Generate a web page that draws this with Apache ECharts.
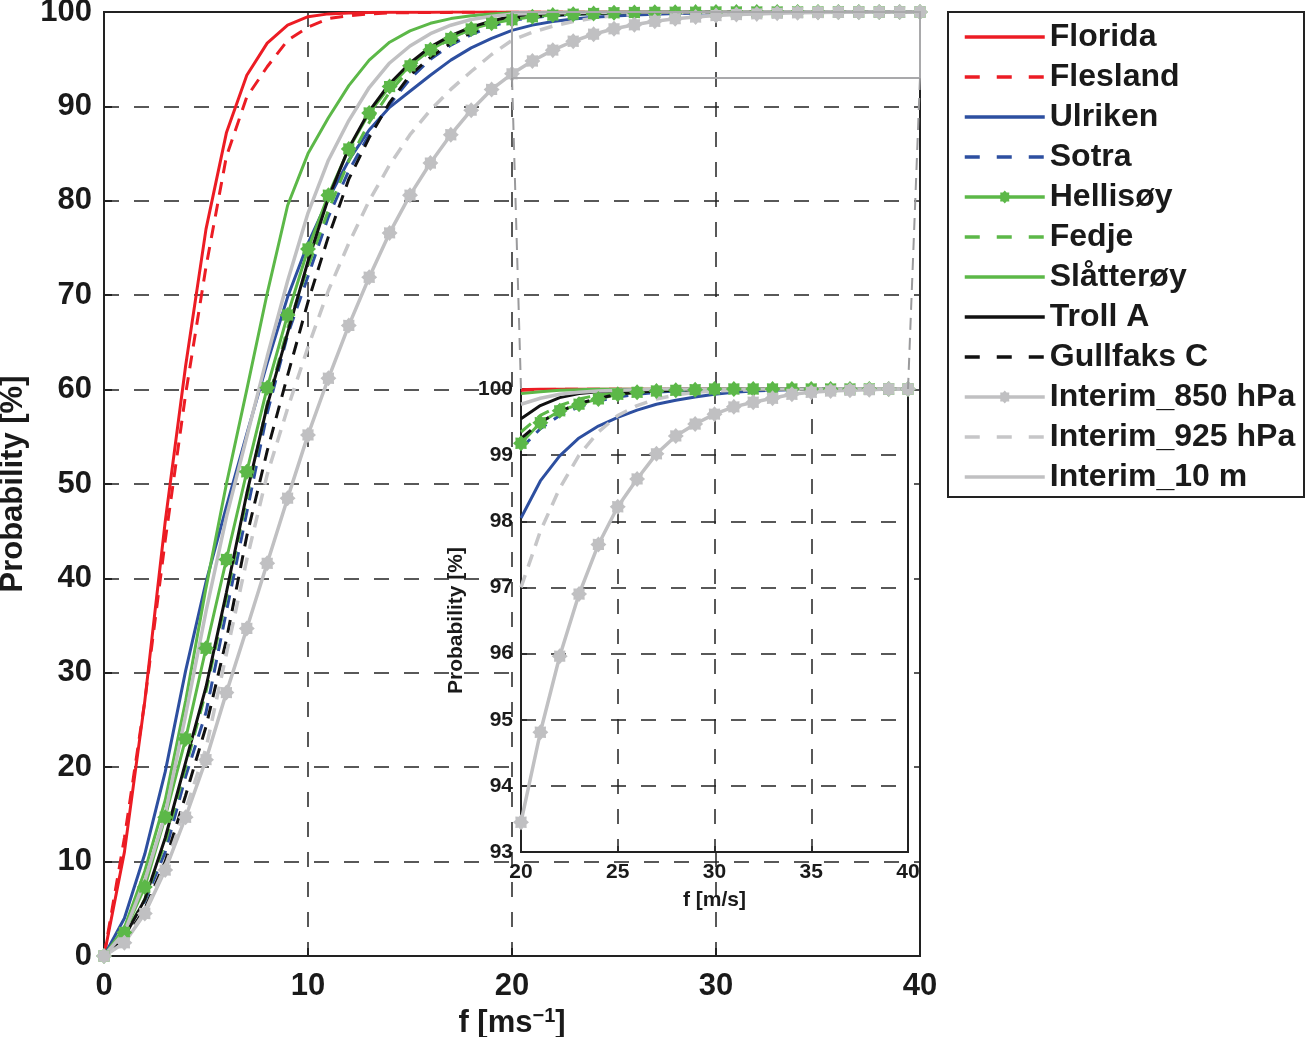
<!DOCTYPE html>
<html>
<head>
<meta charset="utf-8">
<script src="https://cdn.jsdelivr.net/npm/echarts@6/dist/echarts.min.js"></script>
<style>
  html, body { margin: 0; padding: 0; background: #fff; }
  #chart { width: 1306px; height: 1037px; }
</style>
</head>
<body>
<div id="chart"></div>
<script>
// wind speed steps, m/s
const speed = [0, 1, 2, 3, 4, 5, 6, 7, 8, 9, 10, 11, 12, 13, 14, 15, 16, 17, 18, 19, 20,
  21, 22, 23, 24, 25, 26, 27, 28, 29, 30, 31, 32, 33, 34, 35, 36, 37, 38, 39, 40];

// cumulative probability [%] per station
const florida = [0, 11, 27, 46, 62.5, 77, 87.2, 93.3, 96.7, 98.6, 99.5, 99.8, 99.9, 99.95, 99.97, 99.98, 99.98, 99.99, 99.99, 99.99, 99.99,
  100, 100, 100, 100, 100, 100, 100, 100, 100, 100, 100, 100, 100, 100, 100, 100, 100, 100, 100, 100];
const flesland = [0, 12.5, 27, 44, 59.5, 73, 84.7, 91, 94.2, 97, 98.4, 99.3, 99.6, 99.8, 99.9, 99.93, 99.95, 99.96, 99.97, 99.98, 99.98,
  99.99, 100, 100, 100, 100, 100, 100, 100, 100, 100, 100, 100, 100, 100, 100, 100, 100, 100, 100, 100];
const ulriken = [0, 4, 10.8, 19.5, 30.2, 39.6, 47.6, 55.3, 62.8, 69.8, 75.5, 80.2, 84.3, 87.5, 89.9, 91.6, 93.3, 94.9, 96.2, 97.2, 98.05,
  98.61, 98.99, 99.26, 99.44, 99.57, 99.68, 99.77, 99.83, 99.88, 99.92, 99.95, 99.97, 99.98, 99.99, 100, 100, 100, 100, 100, 100];
const sotra = [0, 2.3, 5.8, 11, 19, 25.8, 36.5, 47, 57.5, 65.8, 72, 78.3, 83.2, 87, 90.2, 92.9, 95, 96.5, 97.6, 98.5, 99.1,
  99.4, 99.6, 99.73, 99.82, 99.88, 99.92, 99.95, 99.97, 99.98, 99.99, 99.99, 99.99, 100, 100, 100, 100, 100, 100, 100, 100];
const hellisoy = [0, 2.5, 7.3, 14.7, 23, 32.6, 42, 51.3, 60.2, 67.9, 74.9, 80.6, 85.5, 89.3, 92.1, 94.3, 96, 97.2, 98.2, 98.8, 99.18,
  99.49, 99.67, 99.77, 99.85, 99.92, 99.95, 99.97, 99.98, 99.99, 100, 100, 100, 100, 100, 100, 100, 100, 100, 100, 100];
const fedje = [0, 2.2, 6, 12, 20, 28, 38, 48.5, 58.5, 66.5, 73, 79, 84.2, 88.3, 91.5, 94, 95.9, 97.2, 98.2, 98.85, 99.35,
  99.6, 99.75, 99.85, 99.91, 99.95, 99.97, 99.99, 100, 100, 100, 100, 100, 100, 100, 100, 100, 100, 100, 100, 100];
const slatteroy = [0, 3, 9, 16.5, 27, 39, 50, 60, 70.2, 79.5, 85, 88.8, 92.2, 94.9, 96.8, 98, 98.8, 99.3, 99.6, 99.8, 99.93,
  99.96, 99.98, 99.99, 100, 100, 100, 100, 100, 100, 100, 100, 100, 100, 100, 100, 100, 100, 100, 100, 100];
const trollA = [0, 2, 6, 12.5, 20.5, 28.5, 38.5, 49, 58.3, 66, 73.6, 80.3, 85.6, 89.5, 92.4, 94.6, 96.3, 97.5, 98.4, 99.05, 99.55,
  99.75, 99.87, 99.93, 99.96, 99.98, 99.99, 99.99, 100, 100, 100, 100, 100, 100, 100, 100, 100, 100, 100, 100, 100];
const gullfaks = [0, 1.7, 5, 10, 17, 24.3, 33.5, 44.5, 53.5, 61.5, 69.3, 76.2, 82.3, 86.7, 90.4, 93.3, 95.2, 96.7, 97.8, 98.6, 99.25,
  99.5, 99.66, 99.78, 99.86, 99.92, 99.95, 99.97, 99.98, 99.99, 100, 100, 100, 100, 100, 100, 100, 100, 100, 100, 100];
const interim850 = [0, 1.4, 4.5, 9.1, 14.7, 20.8, 27.9, 34.7, 41.6, 48.5, 55.2, 61.2, 66.8, 71.9, 76.6, 80.6, 84.0, 87.0, 89.6, 91.8, 93.45,
  94.81, 95.96, 96.9, 97.65, 98.22, 98.64, 99.02, 99.29, 99.47, 99.62, 99.73, 99.8, 99.86, 99.92, 99.95, 99.97, 99.98, 99.99, 100, 100];
const interim925 = [0, 1.5, 4.7, 9.5, 15.5, 22, 32, 42, 51, 58, 64.5, 70.5, 75.5, 80, 83.8, 87, 89.6, 91.8, 93.7, 95.5, 97.0,
  97.85, 98.5, 99.0, 99.35, 99.6, 99.75, 99.85, 99.91, 99.95, 99.97, 99.98, 99.99, 99.99, 100, 100, 100, 100, 100, 100, 100];
const interim10m = [0, 2.5, 8, 15, 25.5, 36.5, 46.5, 55, 63.5, 71.5, 78.7, 84.3, 88.5, 92, 94.6, 96.4, 97.7, 98.6, 99.2, 99.55, 99.77,
  99.86, 99.92, 99.95, 99.97, 99.98, 99.99, 100, 100, 100, 100, 100, 100, 100, 100, 100, 100, 100, 100, 100, 100];

const RED = '#ec1c24', BLUE = '#2d4fa0', GREEN = '#5cb848', BLACK = '#111111', GRAY = '#c0c0c2';
const FONT = '"Liberation Sans", Arial, Helvetica, sans-serif';
const DASH = [13, 9];

// fat asterisk marker like the matlab '*'
function starPath(n, rIn, rOut) {
  let d = '';
  for (let i = 0; i < n * 2; i++) {
    const r = i % 2 === 0 ? rOut : rIn;
    const a = Math.PI * i / n - Math.PI / 2;
    d += (i === 0 ? 'M' : 'L') + (50 + r * Math.cos(a)).toFixed(2) + ' ' + (50 + r * Math.sin(a)).toFixed(2) + ' ';
  }
  return 'path://' + d + 'Z';
}
const STAR = starPath(8, 37, 50);

const stations = [
  { name: 'Florida', vals: florida, color: RED, dashed: false, width: 3 },
  { name: 'Flesland', vals: flesland, color: RED, dashed: true, width: 3 },
  { name: 'Ulriken', vals: ulriken, color: BLUE, dashed: false, width: 3 },
  { name: 'Sotra', vals: sotra, color: BLUE, dashed: true, width: 3 },
  { name: 'Hellisøy', vals: hellisoy, color: GREEN, dashed: false, width: 3, marker: true },
  { name: 'Fedje', vals: fedje, color: GREEN, dashed: true, width: 3 },
  { name: 'Slåtterøy', vals: slatteroy, color: GREEN, dashed: false, width: 3 },
  { name: 'Troll A', vals: trollA, color: BLACK, dashed: false, width: 3 },
  { name: 'Gullfaks C', vals: gullfaks, color: BLACK, dashed: true, width: 3 },
  { name: 'Interim_850 hPa', vals: interim850, color: GRAY, dashed: false, width: 3.5, marker: true },
  { name: 'Interim_925 hPa', vals: interim925, color: '#c6c6c8', dashed: true, width: 3.5 },
  { name: 'Interim_10 m', vals: interim10m, color: GRAY, dashed: false, width: 3.5 }
];

function makeSeries(st, inset) {
  let pts = speed.map((x, i) => [x, st.vals[i]]);
  if (inset) pts = pts.filter(p => p[0] >= 20);
  return {
    name: st.name,
    type: 'line',
    xAxisIndex: inset ? 1 : 0,
    yAxisIndex: inset ? 1 : 0,
    data: pts,
    z: inset ? 5 : 2,
    symbol: st.marker ? STAR : 'none',
    symbolSize: 16,
    showSymbol: !!st.marker,
    itemStyle: { color: st.color },
    lineStyle: { color: st.color, width: st.width, type: st.dashed ? DASH : 'solid' },
    silent: true,
    clip: true
  };
}

const series = [];
stations.forEach(st => series.push(makeSeries(st, false)));
stations.forEach(st => series.push(makeSeries(st, true)));

// legend: only the two marker series get a symbol on the line
const legendData = stations.map(st => {
  const item = { name: st.name, lineStyle: { width: 3.5, type: st.dashed ? [15, 17] : 'solid' } };
  if (!st.marker) item.itemStyle = { opacity: 0, color: 'rgba(0,0,0,0)', borderWidth: 0 };
  return item;
});

const gridDash = { show: true, lineStyle: { color: '#222', width: 1.5, type: [15, 15] } };
const axisLine = { show: true, lineStyle: { color: '#222', width: 2 } };
const mainText = { fontSize: 31, fontWeight: 'bold', color: '#1a1a1a', fontFamily: FONT };
const insetText = { fontSize: 21, fontWeight: 'bold', color: '#1a1a1a', fontFamily: FONT };

const chart = echarts.init(document.getElementById('chart'), null, { renderer: 'canvas' });

chart.setOption({
  animation: false,
  backgroundColor: '#fff',
  textStyle: { fontFamily: FONT },
  grid: [
    { left: 104, top: 12, width: 816, height: 944, outerBoundsMode: 'none', containLabel: false,
      show: true, borderColor: '#222', borderWidth: 2, backgroundColor: '#fff', z: 0 },
    { left: 521, top: 389, width: 387, height: 463, outerBoundsMode: 'none', containLabel: false,
      show: true, borderColor: '#222', borderWidth: 2, backgroundColor: '#fff', z: 3 }
  ],
  xAxis: [
    {
      type: 'value', gridIndex: 0, min: 0, max: 40, interval: 10,
      axisLine: axisLine, axisTick: { inside: true, length: 8, lineStyle: { color: '#222', width: 2 } },
      splitLine: gridDash,
      axisLabel: Object.assign({ margin: 15 }, mainText),
      name: 'f [ms{sup|−1}]', nameLocation: 'middle', nameGap: 45,
      nameTextStyle: Object.assign({
        rich: { sup: { fontSize: 20, fontWeight: 'bold', color: '#1a1a1a', fontFamily: FONT, verticalAlign: 'top', padding: [0, 0, 14, 0] } }
      }, mainText)
    },
    {
      type: 'value', gridIndex: 1, min: 20, max: 40, interval: 5, z: 4,
      axisLine: axisLine, axisTick: { inside: true, length: 6, lineStyle: { color: '#222', width: 1.5 } },
      splitLine: gridDash,
      axisLabel: Object.assign({ margin: 10 }, insetText),
      name: 'f [m/s]', nameLocation: 'middle', nameGap: 38,
      nameTextStyle: insetText
    }
  ],
  yAxis: [
    {
      type: 'value', gridIndex: 0, min: 0, max: 100, interval: 10,
      axisLine: axisLine, axisTick: { inside: true, length: 8, lineStyle: { color: '#222', width: 2 } },
      splitLine: gridDash,
      axisLabel: Object.assign({ margin: 12 }, mainText),
      name: 'Probability [%]', nameLocation: 'middle', nameGap: 72,
      nameTextStyle: mainText
    },
    {
      type: 'value', gridIndex: 1, min: 93, max: 100, interval: 1, z: 4,
      axisLine: axisLine, axisTick: { inside: true, length: 6, lineStyle: { color: '#222', width: 1.5 } },
      splitLine: gridDash,
      axisLabel: Object.assign({ margin: 8 }, insetText),
      name: 'Probability [%]', nameLocation: 'middle', nameGap: 54,
      nameTextStyle: insetText
    }
  ],
  legend: {
    data: legendData,
    orient: 'vertical', left: 963, top: 17, padding: 0,
    itemWidth: 80, itemHeight: 16, itemGap: 0,
    selectedMode: false,
    textStyle: { fontSize: 32, fontWeight: 'bold', color: '#1a1a1a', lineHeight: 40, fontFamily: FONT }
  },
  series: series
});

// zoom box, connector lines and legend frame
const tl = chart.convertToPixel({ gridIndex: 0 }, [20, 100]);
const br = chart.convertToPixel({ gridIndex: 0 }, [40, 93]);
const inL = chart.convertToPixel({ gridIndex: 1 }, [20, 100]);
const inR = chart.convertToPixel({ gridIndex: 1 }, [40, 100]);
const boxStyle = { stroke: '#a9a9ab', lineWidth: 2, fill: null };
const linkStyle = { stroke: '#9a9a9c', lineWidth: 2, lineDash: [12, 8] };

chart.setOption({
  graphic: [
    { type: 'rect', z: 10, silent: true, shape: { x: tl[0], y: tl[1], width: br[0] - tl[0], height: br[1] - tl[1] }, style: boxStyle },
    { type: 'line', z: 10, silent: true, shape: { x1: tl[0], y1: br[1], x2: inL[0], y2: inL[1] }, style: linkStyle },
    { type: 'line', z: 10, silent: true, shape: { x1: br[0], y1: br[1], x2: inR[0], y2: inR[1] }, style: linkStyle },
    { type: 'rect', z: 0, silent: true, shape: { x: 948, y: 12, width: 356, height: 485 }, style: { stroke: '#222', lineWidth: 2, fill: '#fff' } }
  ]
});
</script>
</body>
</html>
